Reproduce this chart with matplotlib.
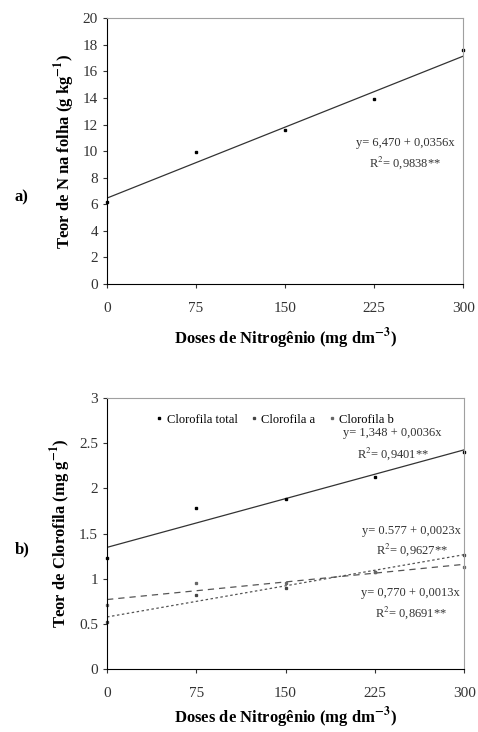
import matplotlib.pyplot as plt
import numpy as np

plt.rcParams['font.family'] = ['Liberation Serif', 'DejaVu Serif']
plt.rcParams['mathtext.fontset'] = 'stix'

# doses de N (mg dm-3)
doses = [0, 75, 150, 225, 300]

# a) teor de N na folha (g kg-1)
teor_n = [6.2, 9.9, 11.6, 13.9, 17.6]
fit_n = (6.470, 0.0356)

# b) clorofila (mg g-1)
clor_total = [1.23, 1.78, 1.88, 2.13, 2.40]
clor_a = [0.52, 0.82, 0.90, 1.07, 1.26]
clor_b = [0.71, 0.95, 0.95, 1.07, 1.13]
fit_total = (1.348, 0.0036)
fit_a = (0.577, 0.0023)
fit_b = (0.770, 0.0013)


def style_axes(ax, ylim, yticks, yticklabels):
    ax.set_xlim(0, 300)
    ax.set_ylim(*ylim)
    ax.set_xticks(doses)
    ax.set_yticks(yticks)
    ax.set_yticklabels(yticklabels)
    for s in ('top', 'right'):
        ax.spines[s].set_color('#a0a0a0')
    for s in ('left', 'bottom'):
        ax.spines[s].set_color('black')
    ax.tick_params(direction='out', length=3, labelsize=11, colors='#333333')
    ax.tick_params(axis='x', pad=10)


fig = plt.figure(figsize=(4.78, 7.32), dpi=100)

# ---- a) ----
ax1 = fig.add_axes([0.224, 0.612, 0.745, 0.363])
xs = np.array([0, 300])
ax1.plot(xs, fit_n[0] + fit_n[1] * xs, color='#333333', lw=0.9)
ax1.plot(doses, teor_n, 's', color='black', ms=1.5, clip_on=False)
style_axes(ax1, (0, 20), range(0, 21, 2), [str(v) for v in range(0, 21, 2)])
ax1.set_ylabel('Teor de N na folha (g kg$^{\\mathbf{-1}}$)', fontsize=12,
               fontweight='bold', labelpad=4)
ax1.set_xlabel('Doses de Nitrogênio (mg dm$^{\\mathbf{-3}}$)', fontsize=12,
               fontweight='bold', labelpad=8)
ax1.text(251, 10.6, 'y= 6,470 + 0,0356x', ha='center', va='center', fontsize=9, color='#333333')
ax1.text(251, 9.1, 'R$^2$= 0,9838**', ha='center', va='center', fontsize=9, color='#333333')
fig.text(0.03, 0.73, 'a)', fontsize=12, fontweight='bold', va='center')

# ---- b) ----
ax2 = fig.add_axes([0.224, 0.086, 0.747, 0.370])
ax2.plot(xs, fit_total[0] + fit_total[1] * xs, color='#333333', lw=0.9)
ax2.plot(xs, fit_a[0] + fit_a[1] * xs, color='#555555', lw=0.9, ls=(0, (2, 2)))
ax2.plot(xs, fit_b[0] + fit_b[1] * xs, color='#555555', lw=0.9, ls=(0, (5, 4)))
ax2.plot(doses, clor_total, 's', color='black', ms=1.5, clip_on=False, label='Clorofila total')
ax2.plot(doses, clor_a, 's', color='#444444', ms=1.4, clip_on=False, label='Clorofila a')
ax2.plot(doses, clor_b, 's', color='#666666', ms=1.4, clip_on=False, label='Clorofila b')
style_axes(ax2, (0, 3), [0, 0.5, 1, 1.5, 2, 2.5, 3],
           ['0', '0.5', '1', '1.5', '2', '2.5', '3'])
ax2.set_ylabel('Teor de Clorofila (mg g$^{\\mathbf{-1}}$)', fontsize=12,
               fontweight='bold', labelpad=4)
ax2.set_xlabel('Doses de Nitrogênio (mg dm$^{\\mathbf{-3}}$)', fontsize=12,
               fontweight='bold', labelpad=4)
ax2.legend(loc='upper center', bbox_to_anchor=(0.47, 0.985), ncol=3, frameon=False,
           fontsize=9, handlelength=0.6, handletextpad=0.3, columnspacing=1.0,
           markerscale=1.0)
eq_kw = dict(ha='center', va='center', fontsize=9, color='#333333')
ax2.text(240, 2.61, 'y= 1,348 + 0,0036x', **eq_kw)
ax2.text(240, 2.39, 'R$^2$= 0,9401**', **eq_kw)
ax2.text(256, 1.53, 'y= 0.577 + 0,0023x', **eq_kw)
ax2.text(256, 1.32, 'R$^2$= 0,9627**', **eq_kw)
ax2.text(255, 0.84, 'y= 0,770 + 0,0013x', **eq_kw)
ax2.text(255, 0.62, 'R$^2$= 0,8691**', **eq_kw)
fig.text(0.03, 0.25, 'b)', fontsize=12, fontweight='bold', va='center')

fig.savefig('out.png', dpi=100)
